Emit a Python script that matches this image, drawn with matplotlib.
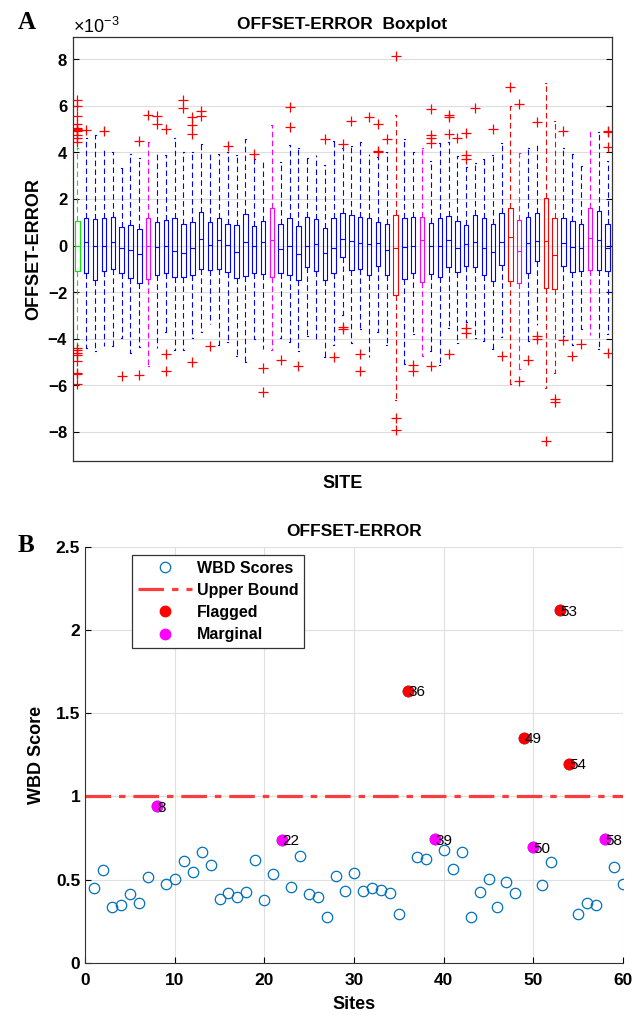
import numpy as np
import matplotlib
matplotlib.use('Agg')
import matplotlib.pyplot as plt
from matplotlib.ticker import ScalarFormatter

plt.rcParams['font.family'] = ['Liberation Sans', 'DejaVu Sans']
plt.rcParams['axes.unicode_minus'] = False
plt.rcParams['mathtext.fontset'] = 'custom'
plt.rcParams['mathtext.rm'] = 'Liberation Sans'

# ---- panel A: boxplot stats (units of 1e-3), first box is the pooled reference ----
q1 = [-1.09, -1.16, -1.5, -1.11, -1.01, -1.19, -1.4, -1.61, -1.44, -1.26, -1.16,
      -1.36, -1.36, -1.26, -1.01, -1.06, -1.01, -1.14, -1.4, -1.3, -1.19,
      -1.23, -1.36, -1.2, -1.26, -1.5, -0.94, -1.09, -1.49, -1.16, -0.5,
      -1.06, -1.0, -1.26, -0.89, -1.26, -2.13, -1.44, -1.19, -1.57, -1.23,
      -1.33, -0.93, -1.14, -0.87, -0.93, -1.26, -1.51, -0.83, -1.54, -1.61,
      -1.16, -0.66, -1.83, -1.87, -0.87, -1.14, -1.09, -1.07, -1.04, -1.1]
med = [0.0, 0.17, 0.0, 0.0, 0.17, -0.11, -0.19, -0.37, 0.0, -0.07, 0.0,
       -0.23, -0.33, -0.11, 0.29, 0.04, 0.24, 0.01, -0.26, 0.14, 0.0,
       0.14, 0.24, -0.16, 0.0, -0.37, 0.0, 0.07, -0.3, -0.11, 0.29,
       0.2, 0.1, 0.07, 0.1, -0.21, -0.11, -0.06, 0.0, 0.24, 0.0,
       -0.04, 0.24, -0.11, 0.06, 0.14, -0.09, -0.29, 0.17, 0.37, -0.23,
       0.1, 0.21, 0.2, -0.4, 0.1, -0.07, -0.11, 0.31, 0.24, -0.11]
q3 = [1.07, 1.2, 1.16, 1.17, 1.24, 0.79, 0.87, 0.71, 1.2, 1.03, 1.09,
      1.2, 0.91, 0.99, 1.44, 0.99, 1.2, 0.91, 0.87, 1.34, 0.83,
      1.04, 1.6, 0.91, 1.17, 0.86, 1.24, 1.16, 0.74, 1.17, 1.39,
      1.3, 1.24, 1.17, 1.03, 0.91, 1.3, 1.2, 1.24, 1.24, 0.96,
      1.2, 1.27, 1.07, 0.89, 1.3, 1.17, 0.91, 1.39, 1.6, 1.1,
      1.24, 1.41, 2.03, 1.2, 1.17, 1.06, 0.93, 1.6, 1.5, 0.93]
wlo = [-4.25, -4.4, -4.54, -4.3, -4.33, -3.97, -4.61, -4.37, -5.16, -4.4, -3.71,
       -4.47, -4.49, -3.97, -3.71, -3.37, -4.29, -4.14, -4.76, -5.02, -4.0,
       -4.44, -4.47, -3.97, -4.14, -4.51, -3.87, -4.09, -4.8, -4.29, -2.97,
       -4.19, -3.59, -4.8, -3.73, -4.29, -6.63, -5.07, -3.81, -4.76, -4.51,
       -5.11, -3.54, -4.19, -3.3, -3.97, -4.09, -4.43, -3.94, -5.95, -5.3,
       -4.11, -3.4, -6.11, -5.48, -3.9, -4.29, -3.59, -3.83, -4.43, -3.81]
whi = [4.2, 4.63, 4.74, 4.2, 4.03, 3.34, 3.93, 3.74, 4.46, 4.0, 3.89,
       4.6, 4.03, 4.03, 4.34, 4.06, 3.93, 4.03, 3.89, 4.56, 3.7,
       3.7, 5.17, 3.6, 4.31, 4.17, 3.74, 3.89, 3.46, 4.49, 4.2,
       4.27, 4.46, 3.93, 3.81, 4.0, 5.6, 4.59, 4.0, 4.17, 3.64,
       4.39, 4.46, 3.86, 3.39, 3.56, 3.7, 3.89, 4.39, 6.0, 3.96,
       4.2, 4.31, 7.0, 5.34, 4.17, 3.93, 3.42, 5.04, 4.89, 3.63]
outliers = [
    [4.43, 4.6, 4.74, 4.9, 4.97, 5.0, 5.03, 5.24, 5.56, 5.99, 6.24,
     -4.4, -4.5, -4.61, -4.7, -4.97, -5.47, -5.5, -5.93],
    [4.96], [], [4.93], [], [-5.61], [], [4.49, -5.54], [5.6], [5.57, 5.24],
    [4.99, -4.64, -5.4], [], [6.24, 5.89], [5.53, 5.17, 4.81, -5.0], [5.77, 5.56],
    [-4.33], [], [4.27], [], [], [3.93],
    [-5.26, -6.29], [], [-4.9], [5.93, 5.1], [-5.19], [], [], [4.56], [-4.8],
    [4.35, -3.48, -3.57],
    [5.37], [-4.64, -5.4], [5.53], [5.24, 4.07, 4.0], [4.56], [8.14, -7.4, -7.94],
    [], [-5.14, -5.4], [], [5.86, 4.74, 4.64, 4.39, -5.16],
    [], [5.6, 5.51, 4.79, -4.64], [4.63], [4.82, 3.89, 3.7, -3.55, -3.76], [5.91],
    [], [5.01], [-4.73], [6.83], [6.06, -5.83],
    [-4.9], [5.31, -3.9, -4.0], [-8.41], [-6.6, -6.7], [4.94, -4.07],
    [-4.73], [-4.22], [], [], [4.94, 4.89, 4.22, -4.62],
]

flagged = [36, 49, 53, 54]
marginal = [8, 22, 39, 50, 58]

# ---- panel B: WBD scores per site ----
sites = np.arange(1, 61)
wbd = [0.453, 0.559, 0.338, 0.35, 0.412, 0.36, 0.519, 0.94, 0.477, 0.507,
       0.612, 0.547, 0.668, 0.586, 0.382, 0.423, 0.398, 0.427, 0.616, 0.378,
       0.533, 0.74, 0.459, 0.644, 0.412, 0.394, 0.274, 0.521, 0.43, 0.54,
       0.432, 0.448, 0.44, 0.422, 0.297, 1.635, 0.635, 0.624, 0.743, 0.681,
       0.562, 0.665, 0.275, 0.424, 0.504, 0.337, 0.488, 0.418, 1.353, 0.697,
       0.47, 0.608, 2.118, 1.197, 0.297, 0.361, 0.351, 0.743, 0.578, 0.474]

fig = plt.figure(figsize=(6.44, 10.28), dpi=100)

# ================= Panel A =================
ax1 = fig.add_axes([0.1134, 0.5516, 0.837, 0.4125])
stats = []
for i in range(len(q1)):
    stats.append(dict(q1=q1[i] * 1e-3, med=med[i] * 1e-3, q3=q3[i] * 1e-3,
                      whislo=wlo[i] * 1e-3, whishi=whi[i] * 1e-3,
                      fliers=np.array(outliers[i]) * 1e-3))

colors = ['#00EE00']
for s in range(1, 61):
    if s in flagged:
        colors.append('#FF0000')
    elif s in marginal:
        colors.append('#FF00FF')
    else:
        colors.append('#0000FF')

pos = np.arange(1, len(stats) + 1)
bp = ax1.bxp(stats, positions=pos, widths=0.5, capwidths=0.1, patch_artist=False,
             flierprops=dict(marker='+', markeredgecolor='red', markersize=7,
                             markeredgewidth=0.9, linestyle='none'),
             whiskerprops=dict(linestyle=(0, (5, 3)), linewidth=0.8),
             boxprops=dict(linewidth=0.8), medianprops=dict(linewidth=0.8),
             capprops=dict(linewidth=0.8))
for i, c in enumerate(colors):
    bp['boxes'][i].set_color(c)
    bp['medians'][i].set_color(c)
    bp['whiskers'][2 * i].set_color(c)
    bp['whiskers'][2 * i + 1].set_color(c)
    bp['caps'][2 * i].set_color(c)
    bp['caps'][2 * i + 1].set_color(c)

ax1.set_xlim(0.5, len(stats) + 0.5)
ax1.set_ylim(-9.25e-3, 8.96e-3)
ax1.set_yticks(np.arange(-8, 9, 2) * 1e-3)
fmt = ScalarFormatter(useMathText=True)
fmt.set_powerlimits((-3, -3))
ax1.yaxis.set_major_formatter(fmt)
ax1.yaxis.get_offset_text().set_fontsize(13)
ax1.set_xticks([])
ax1.tick_params(axis='y', direction='in', right=True, labelsize=12, length=4)
for lab in ax1.get_yticklabels():
    lab.set_fontweight('bold')
ax1.yaxis.grid(True, color='#DDDDDD', linewidth=0.8)
ax1.set_axisbelow(True)
for sp in ax1.spines.values():
    sp.set_color('#333333')
    sp.set_linewidth(0.9)
ax1.set_title('OFFSET-ERROR  Boxplot', fontsize=12.5, fontweight='bold', pad=6)
ax1.set_ylabel('OFFSET-ERROR', fontsize=13, fontweight='bold', labelpad=4)
ax1.set_xlabel('SITE', fontsize=13, fontweight='bold', labelpad=10)

# ================= Panel B =================
ax2 = fig.add_axes([0.132, 0.0632, 0.8354, 0.405])
ax2.plot(sites, wbd, 'o', mfc='none', mec='#0072BD', ms=7.5, mew=0.9,
         label='WBD Scores')
ax2.axhline(1.0, color='#FF3B3B', linestyle=(0, (8, 2.5, 2, 2.5)), linewidth=2.3,
            label='Upper Bound')
fx = [s for s in flagged]
fy = [wbd[s - 1] for s in flagged]
mx = [s for s in marginal]
my = [wbd[s - 1] for s in marginal]
ax2.plot(fx, fy, 'o', color='red', ms=7.5, label='Flagged')
ax2.plot(mx, my, 'o', color='#FF00FF', ms=7.5, label='Marginal')
for s in flagged + marginal:
    ax2.text(s + 0.05, wbd[s - 1] - 0.01, str(s), fontsize=11, ha='left', va='center')

ax2.set_xlim(0, 60)
ax2.set_ylim(0, 2.5)
ax2.set_xticks(np.arange(0, 61, 10))
ax2.set_yticks(np.arange(0, 2.51, 0.5))
ax2.set_yticklabels(['0', '0.5', '1', '1.5', '2', '2.5'])
ax2.tick_params(direction='in', labelsize=12.5, length=4)
ax2.tick_params(axis='x', pad=7)
for lab in ax2.get_xticklabels() + ax2.get_yticklabels():
    lab.set_fontweight('bold')
ax2.grid(True, color='#E0E0E0', linewidth=0.8)
ax2.set_axisbelow(True)
ax2.spines['top'].set_visible(False)
ax2.spines['right'].set_visible(False)
ax2.spines['left'].set_color('#333333')
ax2.spines['bottom'].set_color('#333333')
ax2.set_title('OFFSET-ERROR', fontsize=12.5, fontweight='bold', pad=8)
ax2.set_xlabel('Sites', fontsize=13, fontweight='bold', labelpad=6)
ax2.set_ylabel('WBD Score', fontsize=13, fontweight='bold', labelpad=8)
leg = ax2.legend(loc='upper left', bbox_to_anchor=(0.088, 0.98), fancybox=False,
                 edgecolor='#333333', framealpha=1, handlelength=3.4,
                 prop=dict(weight='bold', size=11.5), borderpad=0.35,
                 labelspacing=0.45, handletextpad=0.3, borderaxespad=0)
leg.get_frame().set_linewidth(0.9)

fig.text(0.028, 0.978, 'A', fontsize=18, fontweight='bold', family='Liberation Serif',
         va='center')
fig.text(0.028, 0.469, 'B', fontsize=18, fontweight='bold', family='Liberation Serif',
         va='center')

fig.savefig('out.png', dpi=100)
